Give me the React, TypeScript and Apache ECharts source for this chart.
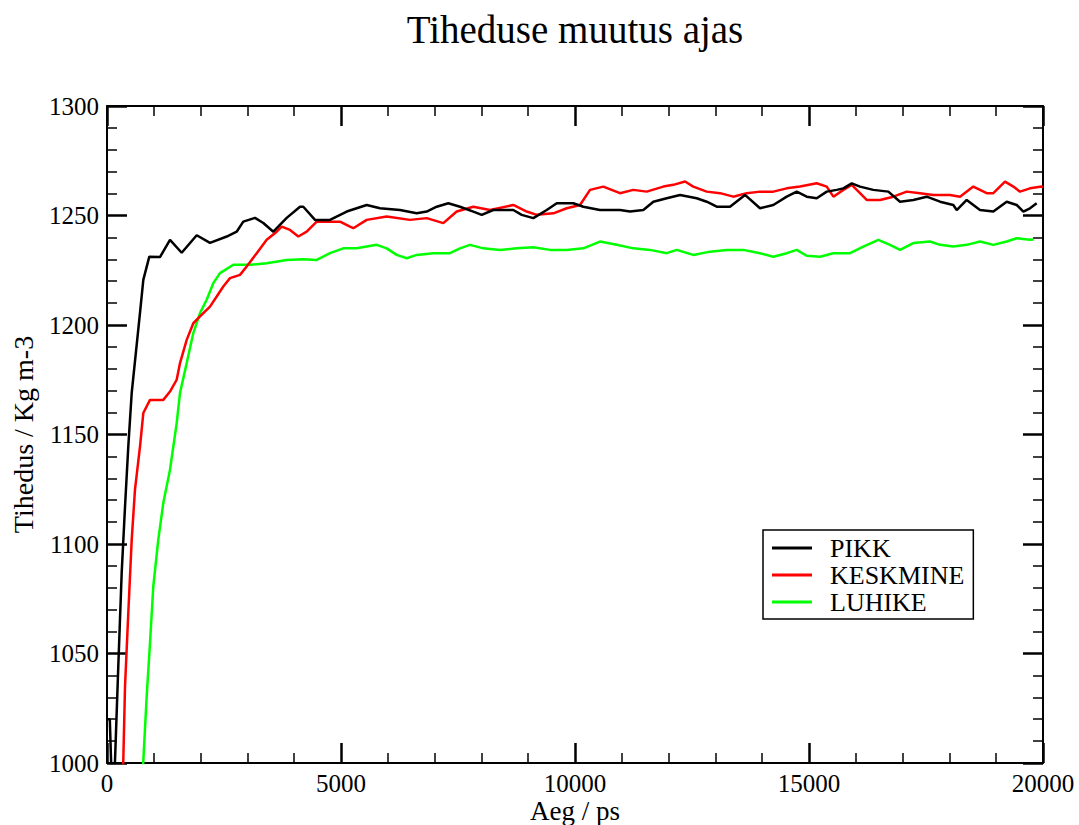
import React, { useEffect, useRef } from "react";
import * as echarts from "echarts";

const pikkT = [0, 60, 110, 171, 241, 314, 385, 455, 528, 705, 776, 904, 1132, 1346, 1596, 1917, 2201, 2558, 2771, 2912, 3162, 3340, 3554, 3840, 4124, 4195, 4445, 4765, 5122, 5549, 5833, 6261, 6618, 6831, 7045, 7293, 7543, 7827, 8007, 8254, 8682, 8861, 9110, 9396, 9610, 9964, 10178, 10534, 10961, 11176, 11460, 11674, 11960, 12244, 12601, 12815, 13028, 13312, 13633, 13953, 14238, 14524, 14738, 14951, 15165, 15379, 15592, 15734, 15913, 16090, 16374, 16695, 16945, 17229, 17515, 17800, 18084, 18156, 18370, 18654, 18939, 19224, 19438, 19580, 19722, 19865];
const pikkV = [1020, 1020, 985, 1001, 1044, 1087, 1117, 1144.5, 1169, 1205.5, 1220.6, 1231.2, 1231, 1238.9, 1233, 1241, 1237.5, 1240.4, 1242.6, 1247.2, 1248.9, 1246.6, 1242.6, 1248.9, 1254, 1254, 1248, 1248, 1251.8, 1254.8, 1253.3, 1252.5, 1251, 1251.8, 1254, 1255.6, 1254, 1251.8, 1250.3, 1252.5, 1252.5, 1250.3, 1248.8, 1252.5, 1255.6, 1255.6, 1254, 1252.5, 1252.5, 1251.8, 1252.5, 1256.3, 1257.9, 1259.4, 1257.9, 1256.3, 1254, 1254, 1259.4, 1253.3, 1254.8, 1258.6, 1260.9, 1258.6, 1257.9, 1260.9, 1261.7, 1262.4, 1264.7, 1263.2, 1261.7, 1260.9, 1256.3, 1257.1, 1258.6, 1256.3, 1254.8, 1252.5, 1257.1, 1252.5, 1251.8, 1256.3, 1254.8, 1251.8, 1253.3, 1255.6];

const keskT = [0, 300, 348, 385, 455, 528, 598, 705, 776, 919, 1203, 1346, 1489, 1560, 1703, 1844, 1987, 2201, 2344, 2485, 2628, 2842, 2985, 3199, 3412, 3626, 3733, 3910, 4088, 4267, 4481, 4836, 4979, 5192, 5263, 5549, 5976, 6474, 6831, 7186, 7472, 7827, 8184, 8682, 8968, 9182, 9538, 9823, 10107, 10321, 10605, 10961, 11246, 11532, 11887, 12101, 12351, 12528, 12815, 13099, 13383, 13669, 13953, 14238, 14524, 14809, 15165, 15379, 15521, 15734, 15913, 16090, 16233, 16518, 16802, 17088, 17372, 17657, 18013, 18227, 18511, 18797, 18939, 19188, 19367, 19509, 19722, 19973, 20000];
const keskV = [900, 985, 1001, 1035, 1068.5, 1102, 1124.8, 1144.5, 1159.8, 1165.8, 1165.8, 1169.6, 1175, 1182.6, 1193.2, 1200.8, 1203.9, 1208.4, 1213, 1217.6, 1221.4, 1222.9, 1226.7, 1232.8, 1238.9, 1242.6, 1244.9, 1243.4, 1240.4, 1242.6, 1247.2, 1247.2, 1247.2, 1244.9, 1244.2, 1248, 1249.5, 1248, 1248.8, 1246.5, 1251.8, 1254, 1252.5, 1254.8, 1251.8, 1250.3, 1251, 1253.3, 1254.8, 1261.7, 1263.2, 1260.2, 1261.7, 1260.9, 1263.2, 1264, 1265.5, 1263.2, 1260.9, 1260.2, 1258.6, 1260.2, 1260.9, 1260.9, 1262.4, 1263.2, 1264.7, 1263.2, 1258.6, 1261.7, 1264, 1260.2, 1257.1, 1257.1, 1258.6, 1260.9, 1260.2, 1259.4, 1259.4, 1258.6, 1263.2, 1260.2, 1260.2, 1265.5, 1263.2, 1260.9, 1262.4, 1263.2, 1263];

const luhiT = [0, 700, 776, 848, 919, 989, 1096, 1203, 1346, 1489, 1560, 1703, 1844, 1987, 2130, 2271, 2415, 2699, 3056, 3412, 3840, 4195, 4481, 4765, 5049, 5335, 5549, 5763, 5976, 6190, 6404, 6618, 6974, 7329, 7543, 7757, 8041, 8397, 8755, 9110, 9466, 9823, 10178, 10534, 10891, 11246, 11603, 11960, 12174, 12528, 12885, 13242, 13597, 13953, 14238, 14524, 14738, 14951, 15236, 15521, 15877, 16161, 16482, 16731, 16945, 17229, 17586, 17800, 18084, 18370, 18654, 18939, 19224, 19438, 19722, 19800];
const luhiV = [850, 975, 1001, 1030.5, 1054.8, 1080.6, 1102, 1118.7, 1133.9, 1155.2, 1169, 1182.6, 1196.3, 1205.4, 1211.5, 1219.1, 1223.7, 1227.5, 1227.5, 1228.2, 1229.7, 1230, 1229.7, 1232.8, 1235, 1235, 1235.8, 1236.6, 1235, 1232, 1230.5, 1232, 1232.8, 1232.8, 1235, 1236.6, 1235, 1234.3, 1235, 1235.5, 1234.3, 1234.3, 1235, 1238.1, 1236.6, 1235, 1234.3, 1232.8, 1234.3, 1232, 1233.5, 1234.3, 1234.3, 1232.8, 1231.2, 1232.8, 1234.3, 1231.6, 1231.2, 1232.8, 1232.8, 1235.8, 1238.9, 1236.6, 1234.3, 1237.4, 1238.1, 1236.6, 1235.8, 1236.6, 1238.1, 1236.6, 1238.1, 1239.6, 1238.9, 1239];

const seriesNames = ["PIKK", "KESKMINE", "LUHIKE"];
const seriesColors = ["#000000", "#ff0000", "#00ff00"];
const titleText = "Tiheduse muutus ajas";
const xName = "Aeg / ps";
const yName = "Tihedus / Kg m-3";

const FONT = "Liberation Serif, DejaVu Serif, serif";
const LABEL_FONT = "Liberation Serif";

function zip(t: number[], v: number[]) {
  return t.map((x, i) => [x, v[i]]);
}

export default function App() {
  const ref = useRef<HTMLDivElement>(null);
  useEffect(() => {
    if (!ref.current) return;
    const chart = echarts.init(ref.current, undefined, { renderer: "svg" });
    const axisCommon = (show: boolean, margin: number) => ({
      axisLine: { show: true, onZero: false, lineStyle: { color: "#000", width: 2 } },
      axisTick: { show: true, inside: true, length: 20, lineStyle: { color: "#000", width: 2.5 } },
      minorTick: { show: true, splitNumber: 5, length: 10, lineStyle: { color: "#000", width: 1.5 } },
      splitLine: { show: false },
      minorSplitLine: { show: false },
      axisLabel: show
        ? {
            show: true,
            color: "#000",
            fontFamily: LABEL_FONT,
            fontSize: 25,
            margin,
            formatter: (v: number) => String(v),
          }
        : { show: false },
    });
    const data = [zip(pikkT, pikkV), zip(keskT, keskV), zip(luhiT, luhiV)];
    chart.setOption({
      animation: false,
      backgroundColor: "#ffffff",
      textStyle: { fontFamily: FONT, color: "#000" },
      grid: {
        left: 107,
        right: 36,
        top: 106,
        bottom: 62,
        containLabel: false,
        outerBoundsMode: "none",
      },
      graphic: [
        {
          type: "text",
          x: 575,
          y: 29,
          style: {
            text: titleText,
            font: `39px ${FONT}`,
            fill: "#000",
            textAlign: "center",
            textVerticalAlign: "middle",
          },
        },
      ],
      legend: {
        orient: "vertical",
        left: 763,
        top: 530,
        data: seriesNames,
        icon: "rect",
        itemWidth: 40,
        itemHeight: 3,
        itemGap: 1,
        padding: [5, 9, 4, 9],
        borderColor: "#000",
        borderWidth: 1.5,
        borderRadius: 0,
        backgroundColor: "#fff",
        textStyle: {
          color: "#000",
          fontFamily: FONT,
          fontSize: 26,
          lineHeight: 26,
          padding: [0, 0, 0, 13],
        },
      },
      xAxis: [
        {
          type: "value",
          position: "bottom",
          min: 0,
          max: 20000,
          interval: 5000,
          name: xName,
          nameLocation: "middle",
          nameGap: 34,
          nameMoveOverlap: false,
          nameTextStyle: { color: "#000", fontFamily: FONT, fontSize: 27 },
          ...axisCommon(true, 8),
        },
        {
          type: "value",
          position: "top",
          min: 0,
          max: 20000,
          interval: 5000,
          ...axisCommon(false, 8),
        },
      ],
      yAxis: [
        {
          type: "value",
          position: "left",
          min: 1000,
          max: 1300,
          interval: 50,
          name: yName,
          nameLocation: "middle",
          nameGap: 70,
          nameMoveOverlap: false,
          nameTextStyle: { color: "#000", fontFamily: FONT, fontSize: 28 },
          ...axisCommon(true, 8),
        },
        {
          type: "value",
          position: "right",
          min: 1000,
          max: 1300,
          interval: 50,
          ...axisCommon(false, 8),
        },
      ],
      series: seriesNames.map((name, i) => ({
        name,
        type: "line",
        xAxisIndex: 0,
        yAxisIndex: 0,
        data: data[i],
        showSymbol: false,
        symbol: "none",
        clip: true,
        color: seriesColors[i],
        lineStyle: { color: seriesColors[i], width: 2.5 },
        z: 3 - i,
      })),
    });
    return () => chart.dispose();
  }, []);
  return (
    <div
      ref={ref}
      style={{ position: "fixed", left: 0, top: 0, width: 1079, height: 825, background: "#fff" }}
    />
  );
}
